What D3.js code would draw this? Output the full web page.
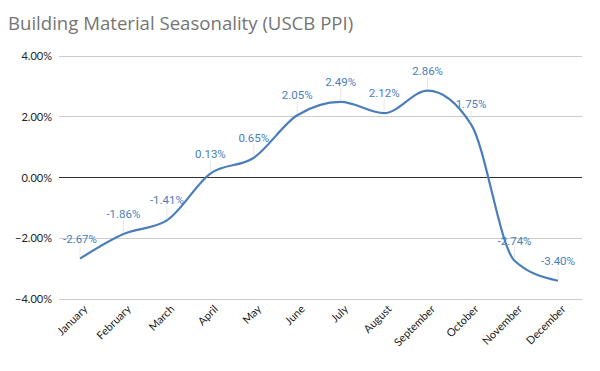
<!DOCTYPE html>
<html><head><meta charset="utf-8">
<script src="https://cdn.jsdelivr.net/npm/d3@7"></script>
<style>body{margin:0;background:#fff}svg{display:block}</style>
</head><body><svg id="c" width="600" height="371"></svg>
<script>
const months = ["January","February","March","April","May","June","July","August","September","October","November","December"];
const values = [-2.67,-1.86,-1.41,0.13,0.65,2.05,2.49,2.12,2.86,1.75,-2.74,-3.40];
const yTicks = [-4,-2,0,2,4];
const title = "Building Material Seasonality (USCB PPI)";

const svg = d3.select("#c");
const x = d3.scalePoint().domain(months).range([80,558]);
const y = d3.scaleLinear().domain([-4,4]).range([299,56]);
const left = 59, right = 582;

svg.append("text").attr("x",8).attr("y",30).text(title)
  .attr("font-family","Open Sans").attr("font-size",18.6).attr("fill","#757575");

const g = svg.append("g");
g.selectAll("line.grid").data(yTicks).join("line")
  .attr("x1",left).attr("x2",right).attr("y1",d=>y(d)).attr("y2",d=>y(d))
  .attr("stroke",d=>d===0?"#333":"#ccc").attr("stroke-width",1).attr("shape-rendering","crispEdges");

const yAxis = d3.axisLeft(y).tickValues(yTicks).tickSize(0).tickPadding(0)
  .tickFormat(d=>d3.format(".2f")(d)+"%");
const ya = svg.append("g").attr("transform",`translate(52,0)`).call(yAxis);
ya.select(".domain").remove();
ya.selectAll("text").attr("font-family","Lato").attr("font-size",11).attr("fill","#222");

const xAxis = d3.axisBottom(x).tickSize(0).tickPadding(0);
const xa = svg.append("g").attr("transform",`translate(0,305)`).call(xAxis);
xa.select(".domain").remove();
xa.selectAll("text").attr("font-family","Lato").attr("font-size",11).attr("fill","#222")
  .attr("text-anchor","end").attr("dy","0.35em")
  .attr("transform","translate(5,2) rotate(-45)");

const line = d3.line().x((d,i)=>x(months[i])).y(d=>y(d)).curve(d3.curveMonotoneX);
svg.append("path").datum(values).attr("d",line).attr("fill","none")
  .attr("stroke","#4a7ebb").attr("stroke-width",2.2);

const lab = svg.append("g");
lab.selectAll("line").data(values).join("line")
  .attr("x1",(d,i)=>x(months[i])).attr("x2",(d,i)=>x(months[i]))
  .attr("y1",d=>y(d)-14).attr("y2",d=>y(d)-2)
  .attr("stroke","#e6e6e6").attr("stroke-width",1);
lab.selectAll("text").data(values).join("text")
  .attr("x",(d,i)=>x(months[i])).attr("y",d=>y(d)-20)
  .attr("text-anchor","middle").attr("dy","0.35em")
  .attr("font-family","Roboto").attr("font-size",11.5).attr("fill","#4a7ebb")
  .text(d=>d3.format(".2f")(d).replace("−","-")+"%");
</script></body></html>
